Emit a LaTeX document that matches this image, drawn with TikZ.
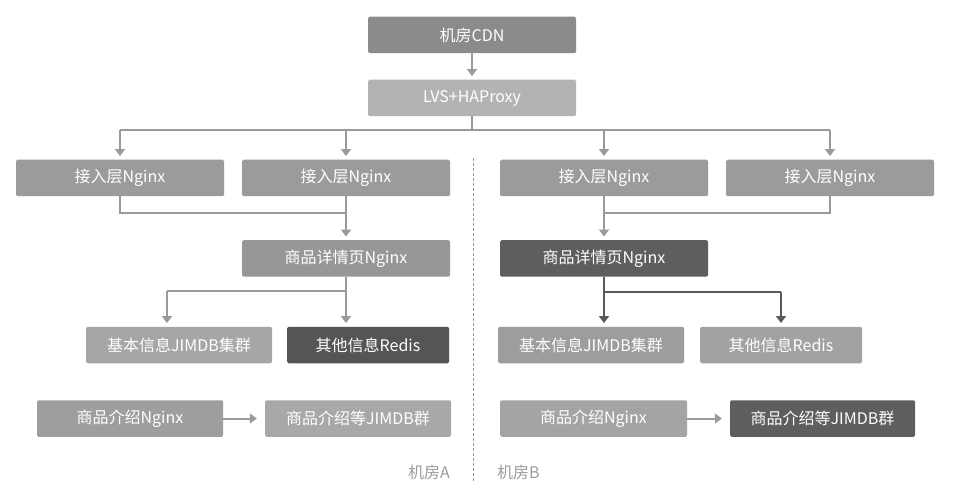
\documentclass[tikz,border=0pt]{standalone}
\usepackage{fontspec}
\newfontfamily\cjk{Noto Sans CJK SC}
\usetikzlibrary{arrows.meta,calc}
\definecolor{cCDN}{HTML}{8B8B8B}
\definecolor{cLVS}{HTML}{B3B3B3}
\definecolor{cNgx}{HTML}{9B9B9B}
\definecolor{cDA}{HTML}{979797}
\definecolor{cDark}{HTML}{5E5E5E}
\definecolor{cRedA}{HTML}{555555}
\definecolor{cB1}{HTML}{A6A6A6}
\definecolor{cB2}{HTML}{9D9D9D}
\definecolor{cR2}{HTML}{A2A2A2}
\definecolor{cP1}{HTML}{9E9E9E}
\definecolor{cQ1}{HTML}{A8A8A8}
\definecolor{cP2}{HTML}{A4A4A4}
\definecolor{cLine}{HTML}{9A9A9A}
\definecolor{cLineD}{HTML}{5A5A5A}
\definecolor{cLabel}{HTML}{9C9C9C}
\tikzset{
  box/.style={draw=none, rounded corners=1.5pt, inner sep=0pt,
    minimum height=36.5pt, text=white,
    font=\cjk\fontsize{16}{19}\selectfont},
  conn/.style={draw=cLine, line width=2pt},
  arr/.style={conn, -{Triangle[width=10pt,length=7pt]}, shorten >=3.5pt},
  arrD/.style={arr, draw=cLineD},
  connD/.style={conn, draw=cLineD},
  room/.style={text=cLabel, inner sep=0pt, font=\cjk\fontsize{16}{19}\selectfont}
}
\begin{document}
\begin{tikzpicture}[x=1pt,y=-1pt]
\useasboundingbox[fill=white] (0,0) rectangle (974,494);
% top
\node[box, fill=cCDN, minimum width=208pt] (cdn) at (472,35) {机房CDN};
\node[box, fill=cLVS, minimum width=208pt] (lvs) at (472,98) {LVS+HAProxy};
% access nginx row
\node[box, fill=cNgx, minimum width=208pt] (n1) at (120,178) {接入层Nginx};
\node[box, fill=cNgx, minimum width=208pt] (n2) at (346,178) {接入层Nginx};
\node[box, fill=cNgx, minimum width=208pt] (n3) at (604,178) {接入层Nginx};
\node[box, fill=cNgx, minimum width=208pt] (n4) at (830,178) {接入层Nginx};
% detail nginx
\node[box, fill=cDA, minimum width=208pt] (dA) at (346,258.5) {商品详情页Nginx};
\node[box, fill=cDark, minimum width=208pt] (dB) at (604,258.5) {商品详情页Nginx};
% storage
\node[box, fill=cB1, minimum width=186pt] (b1) at (179,345) {基本信息JIMDB集群};
\node[box, fill=cRedA, minimum width=162pt] (r1) at (368,345) {其他信息Redis};
\node[box, fill=cB2, minimum width=186pt] (b2) at (591,345) {基本信息JIMDB集群};
\node[box, fill=cR2, minimum width=162pt] (r2) at (781,345) {其他信息Redis};
% bottom row
\node[box, fill=cP1, minimum width=186pt] (p1) at (130,418.5) {商品介绍Nginx};
\node[box, fill=cQ1, minimum width=186pt] (q1) at (358,418.5) {商品介绍等JIMDB群};
\node[box, fill=cP2, minimum width=187pt] (p2) at (593.5,418.5) {商品介绍Nginx};
\node[box, fill=cDark, minimum width=185pt] (q2) at (822.5,418.5) {商品介绍等JIMDB群};
% room labels
\node[room, anchor=east] (roomA) at (450,472) {机房A};
\node[room, anchor=west] (roomB) at (497,472) {机房B};
% divider
\coordinate (divTop) at (473,158);
\coordinate (divBot) at (473,481);
\draw[cLine, line width=0.7pt, dash pattern=on 3pt off 2pt] (divTop) -- (divBot);
% connectors
\draw[arr] (cdn.south) -- (lvs.north);
\coordinate (hub) at ($(lvs.south)+(0,14)$);
\draw[conn] (lvs.south) -- (hub);
\draw[conn] (n1.north |- hub) -- (n4.north |- hub);
\draw[arr] (n1.north |- hub) -- (n1.north);
\draw[arr] (n2.north |- hub) -- (n2.north);
\draw[arr] (n3.north |- hub) -- (n3.north);
\draw[arr] (n4.north |- hub) -- (n4.north);
% merges
\draw[conn] (n1.south) -- ++(0,17) -| (n2.south);
\draw[arr] (n2.south) -- (dA.north);
\draw[conn] (n4.south) -- ++(0,17) -| (n3.south);
\draw[arr] (n3.south) -- (dB.north);
% splits
\coordinate (sA) at ($(dA.south)+(0,14)$);
\draw[conn] (dA.south) -- (sA) -- (sA -| 167,0);
\draw[arr] (sA -| 167,0) -- (b1.north -| 167,0);
\draw[arr] (sA) -- (dA.south |- r1.north);
\coordinate (sB) at ($(dB.south)+(0,15)$);
\draw[connD] (dB.south) -- (sB) -- (sB -| r2.north);
\draw[arrD] (sB) -- (dB.south |- b2.north);
\draw[arrD] (sB -| r2.north) -- (r2.north);
% bottom arrows
\draw[arr, shorten >=8pt] (p1.east) -- (q1.west);
\draw[arr, shorten >=8pt] (p2.east) -- (q2.west);
\end{tikzpicture}
\end{document}
